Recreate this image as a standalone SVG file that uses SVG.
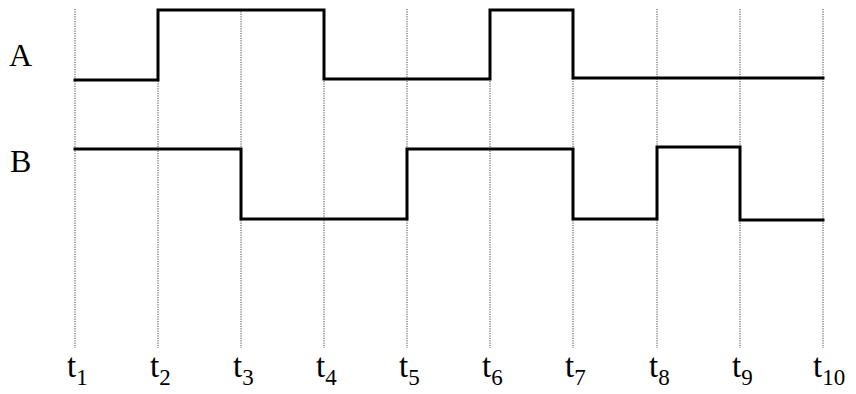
<svg xmlns="http://www.w3.org/2000/svg" width="856" height="394" viewBox="0 0 856 394">
<style>
.grid{stroke:#444;stroke-width:1;stroke-dasharray:1.2 1.2;fill:none}
.wave{stroke:#000;stroke-width:3;fill:none;stroke-linejoin:miter;stroke-linecap:square}
.lbl{font-family:"Liberation Serif","DejaVu Serif",serif;font-size:32px;fill:#000}
.tl{font-family:"Liberation Serif","DejaVu Serif",serif;font-size:33px;fill:#000}
.sub{font-size:23px}
</style>
<rect width="856" height="394" fill="#fff"/>
<g id="gridlines">
<line class="grid" x1="75" y1="9" x2="75" y2="348"/>
<line class="grid" x1="158" y1="9" x2="158" y2="348"/>
<line class="grid" x1="241" y1="9" x2="241" y2="348"/>
<line class="grid" x1="324" y1="9" x2="324" y2="348"/>
<line class="grid" x1="407" y1="9" x2="407" y2="348"/>
<line class="grid" x1="490" y1="9" x2="490" y2="348"/>
<line class="grid" x1="573" y1="9" x2="573" y2="348"/>
<line class="grid" x1="657" y1="9" x2="657" y2="348"/>
<line class="grid" x1="740" y1="9" x2="740" y2="348"/>
<line class="grid" x1="823" y1="9" x2="823" y2="348"/>
</g>
<g id="waveA">
<path class="wave" d="M75,80 H158 V10 H324 V79 H490 V10 H573 V78 H823"/>
</g>
<g id="waveB">
<path class="wave" d="M75,149 H241 V219 H407 V149 H573 V219 H657 V147 H740 V220 H823"/>
</g>
<g id="labels">
<text class="lbl" x="9" y="66">A</text>
<text class="lbl" x="10" y="172">B</text>
</g>
<g id="timelabels">
<text class="tl" x="67" y="377">t<tspan class="sub" dy="8">1</tspan></text>
<text class="tl" x="150" y="377">t<tspan class="sub" dy="8">2</tspan></text>
<text class="tl" x="233" y="377">t<tspan class="sub" dy="8">3</tspan></text>
<text class="tl" x="316" y="377">t<tspan class="sub" dy="8">4</tspan></text>
<text class="tl" x="399" y="377">t<tspan class="sub" dy="8">5</tspan></text>
<text class="tl" x="482" y="377">t<tspan class="sub" dy="8">6</tspan></text>
<text class="tl" x="565" y="377">t<tspan class="sub" dy="8">7</tspan></text>
<text class="tl" x="649" y="377">t<tspan class="sub" dy="8">8</tspan></text>
<text class="tl" x="732" y="377">t<tspan class="sub" dy="8">9</tspan></text>
<text class="tl" x="813" y="377">t<tspan class="sub" dy="8">10</tspan></text>
</g>
</svg>
